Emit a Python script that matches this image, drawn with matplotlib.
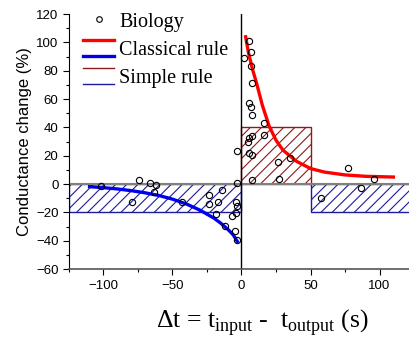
import numpy as np
import matplotlib.pyplot as plt
from matplotlib.lines import Line2D
from matplotlib.legend_handler import HandlerBase

# measured points (delta t in s, conductance change in %)
bio_dt = [-101.9, -74.3, -66.2, -62.0, -63.3, -79.3, -42.8, -23.6, -14.2, -23.3,
          -16.7, -18.6, -3.2, -3.8, -3.0, -3.8, -7.0, -11.8, -4.7, -3.1, -3.3,
          5.8, 7.0, 2.0, 7.0, 7.5, 5.6, 7.0, 7.3, 16.5, 7.5, 5.6, 4.6, 16.4,
          5.4, 7.5, 26.4, 35.3, 7.8, 27.1, 77.1, 95.7, 86.4, 57.5]
bio_dg = [-1.2, 2.6, 0.9, -0.7, -5.8, -12.7, -12.3, -8.0, -4.0, -13.9,
          -12.8, -21.4, 0.5, -12.8, -15.2, -20.7, -22.5, -29.3, -33.0, -39.8, 23.5,
          101, 93.5, 89, 83.4, 71.6, 57, 54.6, 49, 43.5, 33.9, 32.3, 29.9, 34.8,
          21.7, 20.5, 15.5, 18.6, 2.6, 3.5, 11.3, 3.7, -2.4, -9.7]

# classical rule (fitted curves)
pot_dt = [3, 5, 8, 11, 15, 20, 25, 30, 40, 50, 60, 75, 90, 110]
pot_dg = [104, 93, 81, 71, 56, 41, 31, 24, 16, 11, 8.5, 6.5, 5.5, 5]
dep_dt = [-110, -100, -90, -80, -70, -60, -50, -40, -30, -20, -15, -10, -6, -3]
dep_dg = [-1.8, -2.5, -3.4, -4.6, -6.1, -8.0, -10.6, -14.0, -18.4, -24.0,
          -27.6, -31.8, -35.8, -40.5]

# simple rule (piecewise constant)
simple_edges = [-125, 0, 50, 125]
simple_vals = [-20, 40, -20]


class StackHandler(HandlerBase):
    # two lines stacked vertically in one legend entry
    def create_artists(self, legend, orig_handle, xdescent, ydescent,
                       width, height, fontsize, trans):
        arts = []
        for h, frac in zip(orig_handle, (1.0, 0.0)):
            y = frac * height - ydescent
            ln = Line2D([-xdescent, -xdescent + width], [y, y],
                        color=h.get_color(), lw=h.get_linewidth())
            ln.set_transform(trans)
            arts.append(ln)
        return arts


plt.rcParams['font.family'] = ['Liberation Sans', 'DejaVu Sans']
plt.rcParams['hatch.linewidth'] = 0.8
plt.rcParams['mathtext.fontset'] = 'custom'
plt.rcParams['mathtext.rm'] = 'Liberation Serif'

fig = plt.figure(figsize=(4.1, 3.45), dpi=100)
ax = fig.add_axes([0.168, 0.22, 0.842, 0.739])

widths = np.diff(simple_edges)
colors = ['#1c1c9c', '#8b1a1a', '#1c1c9c']
for x0, w, v, c in zip(simple_edges[:-1], widths, simple_vals, colors):
    ax.bar(x0, v, width=w, align='edge', facecolor='white', edgecolor=c,
           hatch='///', lw=1.0, zorder=1)

ax.axhline(0, color='#808080', lw=1.5, zorder=2)
ax.axvline(0, color='black', lw=1.0, zorder=2)

ax.plot(pot_dt, pot_dg, color='#ff0000', lw=2.4, zorder=3)
ax.plot(dep_dt, dep_dg, color='#0000ee', lw=2.4, zorder=3)
ax.plot(bio_dt, bio_dg, 'o', mfc='none', mec='black', ms=4.5, mew=0.8,
        zorder=4)

ax.set_xlim(-125, 125)
ax.set_ylim(-60, 120)
ax.set_xticks([-100, -50, 0, 50, 100])
ax.set_xticks([-125, -75, -25, 25, 75, 125], minor=True)
ax.set_yticks(np.arange(-60, 121, 20))
ax.set_yticks(np.arange(-50, 121, 20), minor=True)
ax.tick_params(which='major', length=4, width=0.8, labelsize=9.5)
ax.tick_params(which='minor', length=2, width=0.8)

ax.spines['top'].set_visible(False)
ax.spines['right'].set_visible(False)
ax.spines['bottom'].set_color('#555555')
ax.spines['bottom'].set_linewidth(1.2)

ax.set_ylabel('Conductance change (%)', fontsize=12, labelpad=3)
ax.set_xlabel(r'$\Delta$t = t$_{\rm input}$ -  t$_{\rm output}$ (s)',
              fontsize=18.5, family='Liberation Serif')
ax.xaxis.set_label_coords(0.562, -0.15)

h_bio = Line2D([], [], ls='none', marker='o', mfc='none', mec='black',
               ms=4, mew=0.8)
h_cls = (Line2D([], [], color='#ff0000', lw=2.4),
         Line2D([], [], color='#0000ee', lw=2.4))
h_smp = (Line2D([], [], color='#8b1a1a', lw=1.0),
         Line2D([], [], color='#1c1c9c', lw=1.0))
ax.legend([h_bio, h_cls, h_smp], ['Biology', 'Classical rule', 'Simple rule'],
          handler_map={tuple: StackHandler()},
          loc='upper left', bbox_to_anchor=(0.0, 1.065), frameon=False,
          prop={'family': 'Liberation Serif', 'size': 14.5},
          handlelength=1.55, handleheight=0.87, handletextpad=0.25,
          labelspacing=0.4, numpoints=1, borderaxespad=0.3)

fig.savefig('out.png', dpi=100)
